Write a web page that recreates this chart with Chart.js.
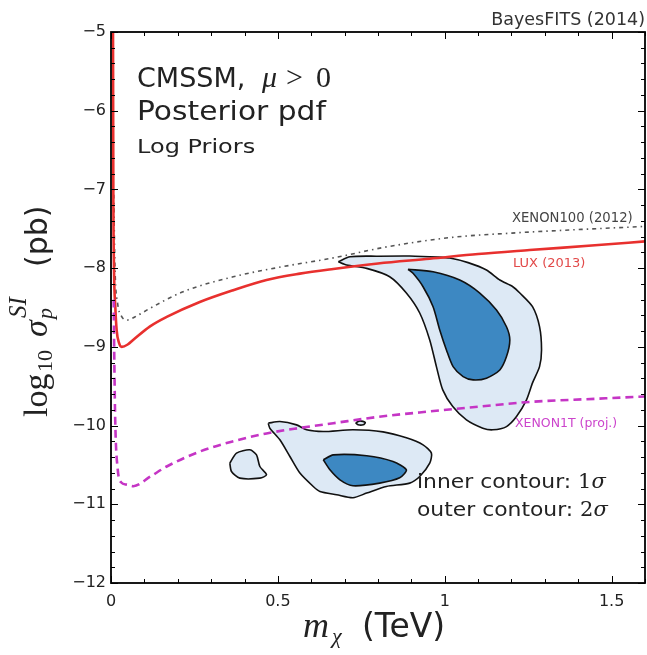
<!DOCTYPE html>
<html><head><meta charset="utf-8">
<script src="https://cdn.jsdelivr.net/npm/chart.js@4.4.1/dist/chart.umd.min.js"></script>
<style>html,body{margin:0;padding:0;background:#fff;}canvas{display:block;}</style>
</head><body>
<canvas id="c" width="647" height="655"></canvas>
<script>
// ---- tick labels ----
const xTickValues = [0, 0.5, 1, 1.5];
const xTickLabels = ['0', '0.5', '1', '1.5'];
const yTickValues = [-12, -11, -10, -9, -8, -7, -6, -5];
const yTickLabels = ['\u221212', '\u221211', '\u221210', '\u22129', '\u22128', '\u22127', '\u22126', '\u22125'];

// ---- limit curves (m_chi in TeV, log10 sigma in pb) ----
const luxX = [0.006, 0.007, 0.009, 0.013, 0.017, 0.024, 0.032, 0.050, 0.067, 0.117, 0.167, 0.266, 0.366, 0.466, 0.566, 0.666, 0.800, 0.955, 1.100, 1.254, 1.450, 1.600];
const luxY = [-5.0, -7.0, -8.0, -8.5, -8.79, -8.95, -9.0, -8.97, -8.91, -8.74, -8.62, -8.43, -8.28, -8.15, -8.07, -8.01, -7.94, -7.88, -7.82, -7.77, -7.71, -7.66];

const xe100X = [0.008, 0.012, 0.020, 0.030, 0.047, 0.080, 0.117, 0.216, 0.366, 0.516, 0.666, 0.826, 1.020, 1.220, 1.400, 1.600];
const xe100Y = [-7.0, -8.0, -8.45, -8.6, -8.66, -8.6, -8.51, -8.30, -8.11, -7.98, -7.87, -7.73, -7.61, -7.55, -7.51, -7.47];

const xe1tX = [0.008, 0.010, 0.013, 0.020, 0.030, 0.047, 0.067, 0.117, 0.167, 0.266, 0.366, 0.466, 0.566, 0.666, 0.800, 0.955, 1.100, 1.254, 1.450, 1.600];
const xe1tY = [-8.4, -9.2, -10.0, -10.55, -10.72, -10.75, -10.77, -10.65, -10.52, -10.33, -10.20, -10.10, -10.03, -9.97, -9.89, -9.82, -9.76, -9.70, -9.66, -9.63];

// ---- posterior contours ----
const upOuterX = [0.681, 0.716, 0.800, 0.895, 0.980, 1.015, 1.070, 1.125, 1.165, 1.204, 1.225, 1.263, 1.284, 1.290, 1.284, 1.263, 1.245, 1.215, 1.185, 1.144, 1.114, 1.065, 1.024, 0.994, 0.975, 0.955, 0.925, 0.885, 0.835, 0.766, 0.706, 0.681];
const upOuterY = [-7.919, -7.855, -7.848, -7.846, -7.860, -7.872, -7.930, -8.024, -8.151, -8.236, -8.316, -8.490, -8.744, -9.039, -9.251, -9.458, -9.674, -9.886, -10.013, -10.054, -10.033, -9.928, -9.759, -9.547, -9.251, -8.912, -8.570, -8.316, -8.109, -8.003, -7.961, -7.919];

const upInnerX = [0.890, 0.965, 1.045, 1.105, 1.155, 1.185, 1.195, 1.185, 1.165, 1.125, 1.085, 1.055, 1.025, 1.005, 0.985, 0.965, 0.935, 0.905, 0.890];
const upInnerY = [-8.015, -8.046, -8.151, -8.316, -8.532, -8.744, -8.912, -9.124, -9.293, -9.398, -9.420, -9.378, -9.251, -9.039, -8.785, -8.490, -8.236, -8.066, -8.015];

const lowOuterX = [0.471, 0.506, 0.556, 0.586, 0.636, 0.725, 0.815, 0.885, 0.935, 0.960, 0.955, 0.925, 0.895, 0.825, 0.766, 0.725, 0.676, 0.626, 0.606, 0.566, 0.536, 0.506, 0.476, 0.471];
const lowOuterY = [-9.970, -9.949, -9.991, -10.054, -10.076, -10.054, -10.080, -10.156, -10.245, -10.350, -10.477, -10.647, -10.731, -10.774, -10.858, -10.917, -10.879, -10.838, -10.774, -10.604, -10.393, -10.181, -10.033, -9.970];

const lowInnerX = [0.636, 0.666, 0.766, 0.845, 0.885, 0.865, 0.805, 0.725, 0.686, 0.656, 0.636];
const lowInnerY = [-10.435, -10.372, -10.384, -10.457, -10.562, -10.664, -10.731, -10.765, -10.689, -10.562, -10.435];

const blobX = [0.356, 0.376, 0.416, 0.436, 0.446, 0.466, 0.446, 0.386, 0.361, 0.356];
const blobY = [-10.477, -10.350, -10.308, -10.372, -10.520, -10.626, -10.668, -10.668, -10.584, -10.477];

const dotX = [0.733, 0.746, 0.762, 0.756, 0.740, 0.733];
const dotY = [-9.965, -9.94, -9.96, -9.99, -9.99, -9.965];

const pts = (xs, ys) => xs.map((x, i) => ({x: x, y: ys[i]}));

const OUTER_FILL = '#dde9f5', INNER_FILL = '#3d88c2', EDGE = '#111';
function contour(xs, ys, fillCol) {
  return {data: pts(xs, ys), showLine: true, fill: 'shape', backgroundColor: fillCol,
          borderColor: EDGE, borderWidth: 1.6, tension: 0.25, pointRadius: 0};
}
function curve(xs, ys, col, w, dash) {
  return {data: pts(xs, ys), showLine: true, fill: false, borderColor: col, borderWidth: w,
          borderDash: dash, cubicInterpolationMode: 'monotone', pointRadius: 0};
}

function txt(ctx, s, x, y, font, color, sx, align) {
  ctx.save();
  ctx.translate(x, y);
  ctx.scale(sx || 1, 1);
  ctx.font = font; ctx.fillStyle = color;
  ctx.textAlign = align || 'left'; ctx.textBaseline = 'alphabetic';
  ctx.fillText(s, 0, 0);
  const w = ctx.measureText(s).width * (sx || 1);
  ctx.restore();
  return w;
}

const framePlugin = {
  id: 'frame',
  afterDatasetsDraw(chart) {
    const ctx = chart.ctx, a = chart.chartArea, xs = chart.scales.x, ys = chart.scales.y;
    ctx.save();
    ctx.strokeStyle = '#000';
    ctx.lineWidth = 1;
    for (let k = 0; k <= 16; k++) {
      const v = k / 10;
      const px = Math.round(xs.getPixelForValue(v)) + 0.5;
      const major = xTickValues.some(t => Math.abs(t - v) < 1e-6);
      const len = major ? 7 : 4;
      ctx.beginPath();
      ctx.moveTo(px, a.bottom); ctx.lineTo(px, a.bottom - len);
      ctx.moveTo(px, a.top); ctx.lineTo(px, a.top + len);
      ctx.stroke();
    }
    for (let k = 0; k <= 35; k++) {
      const v = -12 + k * 0.2;
      const py = Math.round(ys.getPixelForValue(v)) + 0.5;
      const major = yTickValues.some(t => Math.abs(t - v) < 1e-6);
      const len = major ? 7 : 4;
      ctx.beginPath();
      ctx.moveTo(a.left, py); ctx.lineTo(a.left + len, py);
      ctx.moveTo(a.right, py); ctx.lineTo(a.right - len, py);
      ctx.stroke();
    }
    ctx.lineWidth = 1.8;
    ctx.strokeRect(a.left, a.top, a.right - a.left, a.bottom - a.top);
    ctx.restore();

    const dark = '#222';
    txt(ctx, 'CMSSM, ', 137, 87, '27px "DejaVu Sans"', dark, 1.0);
    txt(ctx, '\u03bc', 262, 87, 'italic 30px "Liberation Serif"', dark);
    txt(ctx, '>', 286, 87, '30px "Liberation Serif"', dark);
    txt(ctx, '0', 316, 87, '30px "Liberation Serif"', dark);
    txt(ctx, 'Posterior pdf', 137, 120, '27px "DejaVu Sans"', dark, 1.1);
    txt(ctx, 'Log Priors', 137, 153, '20px "DejaVu Sans"', dark, 1.2);
    txt(ctx, 'BayesFITS (2014)', 645, 25, '17.5px "DejaVu Sans"', '#333', 1, 'right');
    txt(ctx, 'XENON100 (2012)', 512, 222, '13.2px "DejaVu Sans"', '#444');
    txt(ctx, 'LUX (2013)', 513, 267, '13px "DejaVu Sans"', '#e24a4a');
    txt(ctx, 'XENON1T (proj.)', 515, 427, '12.5px "DejaVu Sans"', '#cc44cc');
    let w = txt(ctx, 'inner contour: ', 417, 488, '19px "DejaVu Sans"', dark, 1.15);
    let w2 = txt(ctx, '1', 417 + w, 488, '21px "DejaVu Serif"', dark);
    txt(ctx, '\u03c3', 417 + w + w2, 488, 'italic 21px "DejaVu Serif"', dark);
    w = txt(ctx, 'outer contour: ', 417, 516, '19px "DejaVu Sans"', dark, 1.15);
    w2 = txt(ctx, '2', 417 + w, 516, '21px "DejaVu Serif"', dark);
    txt(ctx, '\u03c3', 417 + w + w2, 516, 'italic 21px "DejaVu Serif"', dark);
  },
  afterDraw(chart) {
    const ctx = chart.ctx;
    const dark = '#222';
    ctx.save();
    ctx.translate(47, 417);
    ctx.rotate(-Math.PI / 2);
    ctx.fillStyle = dark; ctx.textBaseline = 'alphabetic';
    ctx.font = '34px "Liberation Serif"'; ctx.fillText('log', 0, 0);
    ctx.font = '22px "Liberation Serif"'; ctx.fillText('10', 45, 5);
    ctx.font = 'italic 34px "Liberation Serif"'; ctx.fillText('\u03c3', 80, 0);
    ctx.font = 'italic 25px "Liberation Serif"'; ctx.fillText('SI', 99, -21);
    ctx.font = 'italic 22px "Liberation Serif"'; ctx.fillText('p', 98, 5);
    ctx.font = '30px "DejaVu Sans"'; ctx.fillText('(pb)', 150, 0);
    ctx.restore();
    txt(ctx, 'm', 303, 637, 'italic 36px "Liberation Serif"', dark);
    txt(ctx, '\u03c7', 332, 643, 'italic 22px "Liberation Serif"', dark);
    txt(ctx, '(TeV)', 362, 637, '33px "DejaVu Sans"', dark);
  }
};

Chart.defaults.font.family = '"DejaVu Sans"';

new Chart(document.getElementById('c'), {
  type: 'scatter',
  data: {
    datasets: [
      curve(xe1tX, xe1tY, '#c535c5', 2.6, [8, 5]),
      curve(luxX, luxY, '#e8302e', 2.6, []),
      curve(xe100X, xe100Y, '#555', 1.6, [1.5, 4, 4, 4]),
      contour(upInnerX, upInnerY, INNER_FILL),
      contour(lowInnerX, lowInnerY, INNER_FILL),
      contour(upOuterX, upOuterY, OUTER_FILL),
      contour(lowOuterX, lowOuterY, OUTER_FILL),
      contour(blobX, blobY, OUTER_FILL),
      contour(dotX, dotY, OUTER_FILL)
    ]
  },
  options: {
    responsive: false,
    animation: false,
    devicePixelRatio: 1,
    layout: {padding: {top: 32, right: 2, left: 0, bottom: 0}},
    plugins: {legend: {display: false}, tooltip: {enabled: false}},
    scales: {
      x: {
        type: 'linear', min: 0, max: 1.6,
        afterFit(s) { s.height = 72; },
        afterBuildTicks(s) { s.ticks = xTickValues.map(v => ({value: v})); },
        grid: {display: false, drawTicks: false},
        border: {display: false},
        ticks: {padding: 9, autoSkip: false, maxRotation: 0, color: '#222',
                font: {size: 16}, callback: (v, i) => xTickLabels[i]}
      },
      y: {
        type: 'linear', min: -12, max: -5,
        afterFit(s) { s.width = 111; },
        afterBuildTicks(s) { s.ticks = yTickValues.map(v => ({value: v})); },
        grid: {display: false, drawTicks: false},
        border: {display: false},
        ticks: {padding: 5, autoSkip: false, color: '#222',
                font: {size: 16}, callback: (v, i) => yTickLabels[i]}
      }
    }
  },
  plugins: [framePlugin]
});
</script>
</body></html>
